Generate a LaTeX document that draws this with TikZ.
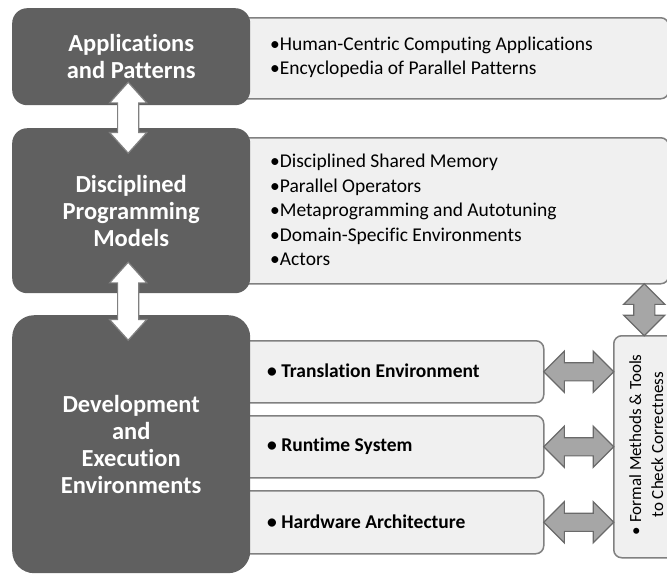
\documentclass[tikz,border=0pt]{standalone}
\usepackage{fontspec}
\setmainfont{Carlito}[Ligatures=NoCommon]
\usetikzlibrary{shapes.arrows,calc}

\definecolor{layergray}{HTML}{606060}
\definecolor{panelfill}{HTML}{F0F0F0}
\definecolor{panelline}{HTML}{808080}
\definecolor{arrowfill}{HTML}{A6A6A6}
\definecolor{arrowline}{HTML}{6A6A6A}

\tikzset{
  layer/.style={fill=layergray, rounded corners=15pt, anchor=north west, inner sep=0pt,
    text=white, align=center, font=\fontsize{24.5}{27}\selectfont\bfseries},
  panel/.style={fill=panelfill, draw=panelline, line width=1.5pt, rounded corners=8pt,
    anchor=north west, inner sep=0pt},
  items/.style={anchor=west, align=left, inner sep=0pt, font=\fontsize{19.5}{24.5}\selectfont},
  subitem/.style={anchor=west, inner sep=0pt, font=\fontsize{19.5}{22}\selectfont\bfseries},
  whitearrow/.style={double arrow, draw=panelline, fill=white, line width=1.2pt,
    inner xsep=0pt, inner ysep=10pt, minimum width=0pt,
    double arrow head extend=8pt, double arrow tip angle=84},
  grayarrow/.style={double arrow, draw=arrowline, fill=arrowfill, line width=1.2pt,
    inner xsep=0pt, inner ysep=8.5pt, minimum width=0pt,
    double arrow head extend=11.5pt, double arrow tip angle=90},
}

\begin{document}
\begin{tikzpicture}[x=1pt,y=-1pt]
\useasboundingbox (0,0) rectangle (667,574);

% panels on the right
\node [panel, minimum width=468pt, minimum height=81pt] (applpanel) at (200,17) {};
\node [panel, minimum width=468pt, minimum height=146pt] (modelpanel) at (200,137) {};
\node [panel, minimum width=343pt, minimum height=62pt] (trans) at (200,340) {};
\node [panel, minimum width=343pt, minimum height=62pt] (runtime) at (200,415) {};
\node [panel, minimum width=343pt, minimum height=63pt] (hw) at (200,490) {};
\node [panel, minimum width=67pt, minimum height=222pt] (formal) at (613,335) {};

% dark layers
\node [layer, minimum width=238pt, minimum height=97pt] (appl) at (12,8) {Applications\\and Patterns};
\node [layer, minimum width=238pt, minimum height=165pt] (models) at (12,128) {Disciplined\\Programming\\Models};
\node [layer, rounded corners=22pt, minimum width=238pt, minimum height=258pt] (dev) at (12,315)
  {Development\\and\\Execution\\Environments};

% texts
\node [items] (appltext) at (270,57.5) {\textbullet Human-Centric Computing Applications\\
  \textbullet Encyclopedia of Parallel Patterns};
\node [items] (modeltext) at (270,210) {\textbullet Disciplined Shared Memory\\
  \textbullet Parallel Operators\\
  \textbullet Metaprogramming and Autotuning\\
  \textbullet Domain-Specific Environments\\
  \textbullet Actors};
\node [subitem] (transtext) at (267,371) {\textbullet{} Translation Environment};
\node [subitem] (runtimetext) at (267,446) {\textbullet{} Runtime System};
\node [subitem] (hwtext) at (267,521.5) {\textbullet{} Hardware Architecture};
\node [rotate=90, align=center, inner sep=0pt, font=\fontsize{17}{22}\selectfont] (formaltext)
  at ($(formal.center)+(-1,-2)$) {\textbullet{} Formal Methods \& Tools\\to Check Correctness};

% arrows
\path ($(appl.south)+(-3,-23)$) -- ($(models.north)+(-3,25)$)
  node [midway, sloped, whitearrow, minimum height=71pt] (ud1) {};
\path ($(models.south)+(-3,-31)$) -- ($(dev.north)+(-3,25)$)
  node [midway, sloped, whitearrow, minimum height=78pt] (ud2) {};
\path ($(modelpanel.south -| formal.north)+(-3,0)$) -- ($(formal.north)+(-3,0)$)
  node [midway, sloped, grayarrow, inner ysep=10pt, double arrow head extend=10pt,
    minimum height=52pt] (ud3) {};
\path (trans.east) -- (trans.east -| formal.west)
  node [midway, sloped, grayarrow, minimum height=70pt] (lr1) {};
\path (runtime.east) -- (runtime.east -| formal.west)
  node [midway, sloped, grayarrow, minimum height=70pt] (lr2) {};
\path (hw.east) -- (hw.east -| formal.west)
  node [midway, sloped, grayarrow, minimum height=70pt] (lr3) {};
\end{tikzpicture}
\end{document}
